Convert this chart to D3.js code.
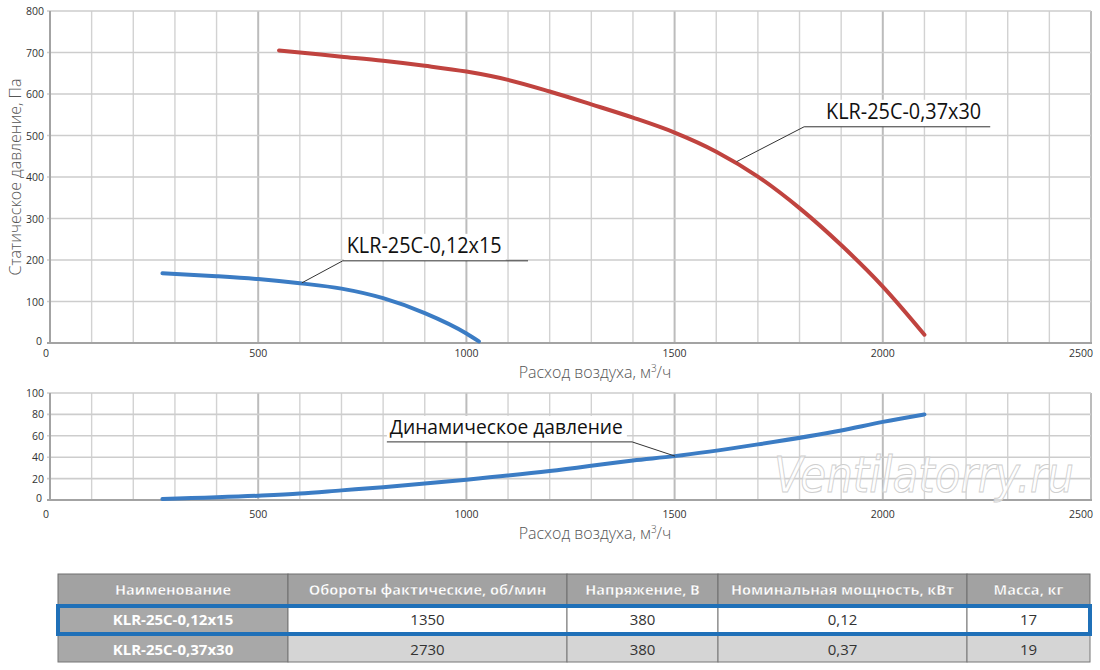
<!DOCTYPE html>
<html>
<head>
<meta charset="utf-8">
<script src="https://cdn.jsdelivr.net/npm/d3@7"></script>
<style>
  body { margin: 0; background: #fff; }
  svg { display: block; font-family: "Open Sans", sans-serif; }
</style>
</head>
<body>
<div id="chart"></div>
<script>
////////////////////////////////////////////////////////////////////////
// Data

// static pressure curves: [air flow m3/h, pressure Pa]
const curveSmall = [[270,168],[400,161],[500,154],[600,144],[700,131],[800,108],[900,72],[1000,23],[1030,4]];
const curveBig = [[550,705],[600,700],[700,690],[800,680],[900,668],[1000,654],[1100,634],[1200,606],
                  [1300,575],[1400,543],[1500,507],[1600,461],[1700,401],[1800,325],[1900,236],[2000,136],[2100,20]];
// dynamic pressure curve
const curveDyn = [[270,1],[500,4],[600,6],[700,9],[800,12],[1000,19],[1200,27],[1400,37],[1500,41],
                  [1700,52],[1900,65],[2000,73],[2100,80]];

const xTicks = [0, 500, 1000, 1500, 2000, 2500];
const yTicksTop = [0, 100, 200, 300, 400, 500, 600, 700, 800];
const yTicksBottom = [0, 20, 40, 60, 80, 100];

// labels: anchor on curve, elbow, end of underline (data coords)
const labelSmall = { text: "KLR-25C-0,12x15", anchor: [605, 145], elbow: [703, 198], end: [1148, 198] };
const labelBig = { text: "KLR-25C-0,37x30", anchor: [1649, 437], elbow: [1811, 521], end: [2258, 521] };
const labelDyn = { text: "Динамическое давление", anchor: [1501, 41], elbow: [1398, 54.3], end: [809, 54.3] };

// table
const tableHeader = ["Наименование", "Обороты фактические, об/мин", "Напряжение, В", "Номинальная мощность, кВт", "Масса, кг"];
const tableRows = [
  ["KLR-25C-0,12x15", "1350", "380", "0,12", "17"],
  ["KLR-25C-0,37x30", "2730", "380", "0,37", "19"]
];

////////////////////////////////////////////////////////////////////////
// Layout

const width = 1100, height = 670;
const svg = d3.select("#chart").append("svg")
  .attr("width", width)
  .attr("height", height);

const xScale = d3.scaleLinear().domain([0, 2500]).range([50, 1091]);
const yTop = d3.scaleLinear().domain([0, 800]).range([343, 11]);
const yBot = d3.scaleLinear().domain([0, 100]).range([500, 393]);

// draw one panel: grid, axes, ticks
function drawPanel(yScale, yStep, yTicks, xLabelY) {
  const g = svg.append("g");
  const [y0, y1] = yScale.range();

  // vertical grid every 100
  g.selectAll(".vg")
    .data(d3.range(100, 2501, 100))
    .join("line")
    .attr("x1", d => xScale(d)).attr("x2", d => xScale(d))
    .attr("y1", y0).attr("y2", y1)
    .attr("stroke", d => d % 500 === 0 ? "#bcbcbc" : "#d2d2d2")
    .attr("stroke-width", d => d % 500 === 0 ? 2 : 1.4);

  // horizontal grid
  g.selectAll(".hg")
    .data(d3.range(yStep, yScale.domain()[1] + 1, yStep))
    .join("line")
    .attr("x1", 47).attr("x2", xScale(2500))
    .attr("y1", d => yScale(d)).attr("y2", d => yScale(d))
    .attr("stroke", "#cdcdcd")
    .attr("stroke-width", 1.6);

  // axes lines
  g.append("line")
    .attr("x1", xScale(0)).attr("x2", xScale(0))
    .attr("y1", y0 + 1).attr("y2", y1)
    .attr("stroke", "#a3a3a3").attr("stroke-width", 2);
  g.append("line")
    .attr("x1", 47).attr("x2", xScale(2500) + 1)
    .attr("y1", y0).attr("y2", y0)
    .attr("stroke", "#a3a3a3").attr("stroke-width", 2);

  // y tick labels
  g.selectAll(".yl")
    .data(yTicks)
    .join("text")
    .attr("x", d => d === 0 ? 42 : 44)
    .attr("y", d => yScale(d) + (d === 0 ? 2 : 4))
    .attr("text-anchor", "end")
    .attr("font-size", 10.5)
    .attr("fill", "#333")
    .text(d => d);

  // x tick labels
  g.selectAll(".xl")
    .data(xTicks)
    .join("text")
    .attr("x", d => d === 0 ? 46 : (d === 2500 ? xScale(d) + 2 : xScale(d)))
    .attr("y", xLabelY)
    .attr("text-anchor", d => d === 2500 ? "end" : "middle")
    .attr("font-size", 10.5)
    .attr("fill", "#333")
    .text(d => d);

  // x axis title
  const t = g.append("text")
    .attr("x", 595)
    .attr("y", xLabelY + 21)
    .attr("text-anchor", "middle")
    .attr("font-size", 16)
    .attr("font-weight", 300)
    .attr("fill", "#555");
  t.append("tspan").text("Расход воздуха, м");
  t.append("tspan").attr("font-size", 10).attr("dy", -6).text("3");
  t.append("tspan").attr("dy", 6).text("/ч");
  return g;
}

drawPanel(yTop, 100, yTicksTop, 357);
drawPanel(yBot, 20, yTicksBottom, 518);

// y axis title (top panel)
svg.append("text")
  .attr("transform", `translate(21, ${(yTop(0) + yTop(800)) / 2}) rotate(-90)`)
  .attr("text-anchor", "middle")
  .attr("font-size", 16)
  .attr("font-weight", 300)
  .attr("fill", "#555")
  .text("Статическое давление, Па");

// watermark
svg.append("text")
  .attr("x", 774)
  .attr("y", 492)
  .attr("font-size", 50)
  .attr("font-style", "italic")
  .attr("font-family", "'DejaVu Sans', sans-serif")
  .attr("textLength", 300)
  .attr("lengthAdjust", "spacingAndGlyphs")
  .attr("fill", "#ffffff")
  .attr("fill-opacity", 0.6)
  .attr("stroke", "#cfcfcf")
  .attr("stroke-width", 1)
  .text("Ventilatorry.ru");

// curves
function drawCurve(data, yScale, color) {
  svg.append("path")
    .datum(data)
    .attr("fill", "none")
    .attr("stroke", color)
    .attr("stroke-width", 4)
    .attr("stroke-linecap", "round")
    .attr("d", d3.line()
      .x(d => xScale(d[0]))
      .y(d => yScale(d[1]))
      .curve(d3.curveMonotoneX));
}

drawCurve(curveSmall, yTop, "#3b7cc4");
drawCurve(curveBig, yTop, "#c0433f");
drawCurve(curveDyn, yBot, "#3b7cc4");

// callout labels with leader line and white box behind the text
function drawLabel(lab, yScale, fontSize, textWidth, offset) {
  const ax = xScale(lab.anchor[0]), ay = yScale(lab.anchor[1]);
  const ex = xScale(lab.elbow[0]), ey = yScale(lab.elbow[1]);
  const tx = xScale(lab.end[0]);
  const x0 = Math.min(ex, tx);
  const textX = x0 + offset;

  svg.append("rect")
    .attr("x", textX - 3)
    .attr("y", ey - fontSize - 6)
    .attr("width", textWidth + 7)
    .attr("height", fontSize + 6)
    .attr("fill", "#fff");

  svg.append("polyline")
    .attr("points", [[ax, ay], [ex, ey], [tx, ey]].map(p => p.join(",")).join(" "))
    .attr("fill", "none")
    .attr("stroke", "#333")
    .attr("stroke-width", 1);

  svg.append("text")
    .attr("x", textX)
    .attr("y", ey - 8)
    .attr("font-size", fontSize)
    .attr("fill", "#111")
    .attr("textLength", textWidth)
    .attr("lengthAdjust", "spacingAndGlyphs")
    .text(lab.text);
}

drawLabel(labelSmall, yTop, 21, 155, 4);
drawLabel(labelBig, yTop, 21, 155, 22);
drawLabel(labelDyn, yBot, 20, 233, 3);

////////////////////////////////////////////////////////////////////////
// Table

const colX = [58, 288, 567, 718, 967, 1090];
const rowY = [574, 605, 635, 662];

const table = svg.append("g");

// header row
tableHeader.forEach((h, i) => {
  table.append("rect")
    .attr("x", colX[i]).attr("y", rowY[0])
    .attr("width", colX[i + 1] - colX[i]).attr("height", rowY[1] - rowY[0])
    .attr("fill", "#a2a2a2")
    .attr("stroke", "#6e6e6e").attr("stroke-width", 1);
  table.append("text")
    .attr("x", (colX[i] + colX[i + 1]) / 2)
    .attr("y", rowY[0] + 21)
    .attr("text-anchor", "middle")
    .attr("font-size", 14.5)
    .attr("font-weight", "bold")
    .attr("fill", "#fff")
    .attr("stroke", "#8a8a8a")
    .attr("stroke-width", 0.3)
    .text(h);
});

// body rows
tableRows.forEach((row, r) => {
  row.forEach((v, i) => {
    const first = i === 0;
    table.append("rect")
      .attr("x", colX[i]).attr("y", rowY[r + 1])
      .attr("width", colX[i + 1] - colX[i]).attr("height", rowY[r + 2] - rowY[r + 1])
      .attr("fill", first ? "#a8a8a8" : (r === 0 ? "#ffffff" : "#d5d5d5"))
      .attr("stroke", "#777").attr("stroke-width", 1);
    table.append("text")
      .attr("x", (colX[i] + colX[i + 1]) / 2)
      .attr("y", rowY[r + 1] + 20)
      .attr("text-anchor", "middle")
      .attr("font-size", 15)
      .attr("font-weight", first ? "bold" : "normal")
      .attr("fill", first ? "#fff" : "#333")
      .text(v);
  });
});

// blue highlight around first model row
table.append("rect")
  .attr("x", colX[0]).attr("y", rowY[1] + 1)
  .attr("width", colX[5] - colX[0]).attr("height", rowY[2] - rowY[1] - 2)
  .attr("fill", "none")
  .attr("stroke", "#1f70b8")
  .attr("stroke-width", 4);
</script>
</body>
</html>
